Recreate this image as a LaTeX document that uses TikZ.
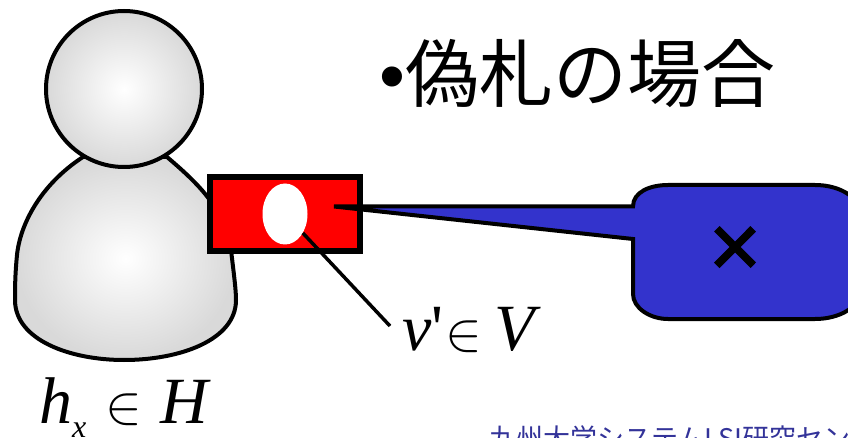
\documentclass[tikz,border=0pt]{standalone}
\usepackage{amsmath,amssymb}
\usepackage{graphicx}
\usepackage{xcolor}
\usepackage{fontspec}
\usepackage{tikz}
\usetikzlibrary{arrows,shapes,positioning}
\setmainfont{Liberation Serif}
\newfontfamily\sansfont{Liberation Sans}
\newfontfamily\markfont[FakeBold=1.5]{Liberation Sans}
\newfontfamily\primefont{Liberation Serif}
\newfontfamily\cjk{Noto Sans CJK JP}
\definecolor{tailblue}{HTML}{3333CC}
\definecolor{footblue}{HTML}{333399}
\newcommand{\fsize}[1]{\fontsize{#1}{#1}\selectfont}
\newcommand{\bigin}{\scalebox{5.5}{\fsize{10}$\in$}}

\begin{document}
\begin{tikzpicture}[x=1pt, y=-1pt, >=latex']
  \tikzstyle{shade}=[draw=black, line width=4pt, inner color=white, outer color=black!15]
  \tikzstyle{mathtext}=[inner sep=0pt, anchor=base west, font=\fsize{66}\itshape]
  \useasboundingbox (0,0) rectangle (848,438);
  \clip (0,0) rectangle (848,438);
  % person
  \path[shade] (83,157) .. controls (40,185) and (20,225) .. (17,255)
    .. controls (15,275) and (15,290) .. (15,300)
    .. controls (15,340) and (70,360) .. (124,360)
    .. controls (180,360) and (236,340) .. (236,300)
    .. controls (236,290) and (234,275) .. (231,250)
    .. controls (225,210) and (200,185) .. (167,157) -- cycle;
  \node[circle, shade, minimum size=156pt, inner sep=0pt] (head) at (124,89) {};
  % card
  \node[rectangle, draw=black, fill=red, line width=5.5pt, minimum width=150pt, minimum height=74pt, inner sep=0pt, outer sep=0pt] (card) at (285,214) {};
  \node[ellipse, fill=white, minimum width=45pt, minimum height=61pt, inner sep=0pt] (hole) at (285,214) {};
  \coordinate (tip) at (334,206.5);
  \coordinate (pin) at (390,326);
  % speech bubble
  \draw[line width=4pt, fill=tailblue, line join=miter] (tip) -- (633,206.5)
    .. controls (633,192) and (650,185) .. (668,185) -- (815,185)
    .. controls (835,185) and (852,193) .. (858,205) -- (858,300)
    .. controls (852,311) and (835,319) .. (815,319) -- (668,319)
    .. controls (650,319) and (633,308) .. (633,294) -- (633,239) -- cycle;
  \node[inner sep=0pt, font=\markfont\fsize{90}] (mark) at (735,252) {×};
  \draw[line width=3.5pt] (hole) -- (pin);
  % labels
  \node[inner sep=0pt, anchor=base west, font=\fsize{74}] (title) at (379,102) {{\sansfont •}{\cjk 偽札の場合}};
  \node[mathtext] (vlabel) at (402,350) {v{\primefont\upshape '}\hspace{2pt}\bigin\hspace{12pt}V};
  \node[mathtext] (hlabel) at (39,423) {h\raisebox{-14pt}{\fsize{32}x}\hspace{19pt}\bigin\hspace{18pt}H};
  \node[inner sep=0pt, anchor=base west, text=footblue, font=\cjk\fsize{27}] (foot) at (489,448) {九州大学システムLSI研究セン};
\end{tikzpicture}
\end{document}
